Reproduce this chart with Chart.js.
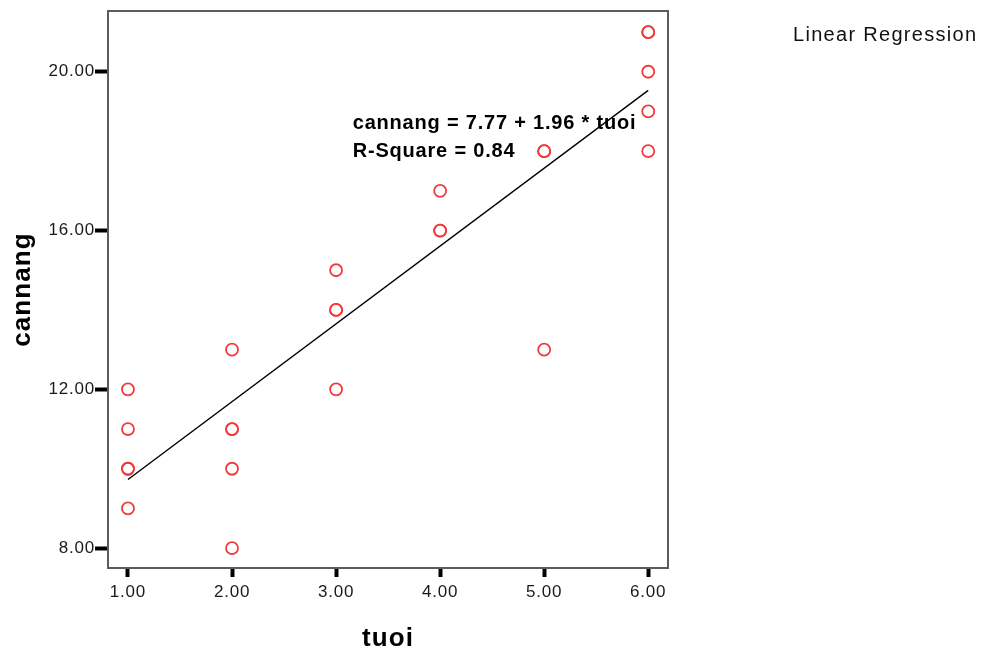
<!DOCTYPE html>
<html>
<head>
<meta charset="utf-8">
<script src="https://cdn.jsdelivr.net/npm/chart.js@4.4.1/dist/chart.umd.min.js"></script>
<style>
html,body{margin:0;padding:0;background:#fff;}
#wrap{width:982px;height:652px;position:relative;}
</style>
</head>
<body>
<div id="wrap"><canvas id="c" width="982" height="652"></canvas></div>
<script>
// ---- data ----
const tuoi    = [1, 1, 1, 1, 1,  2, 2, 2, 2, 2,  3, 3, 3, 3,  4, 4, 4,  5, 5, 5,  6, 6, 6, 6, 6];
const cannang = [12, 11, 10, 10, 9,  13, 11, 11, 10, 8,  15, 14, 14, 12,  17, 16, 16,  18, 18, 13,  21, 21, 20, 19, 18];
const fitX = [1, 6];
const fitY = [9.73, 19.53];
const xTicks = [1, 2, 3, 4, 5, 6];
const yTicks = [8, 12, 16, 20];
const equationLines = ["cannang = 7.77 + 1.96 * tuoi", "R-Square = 0.84"];
const legendTitle = "Linear Regression";

const points = tuoi.map((x, i) => ({x: x, y: cannang[i]}));
const fitLine = fitX.map((x, i) => ({x: x, y: fitY[i]}));

const FONT = '"Liberation Sans", Arial, sans-serif';

const framePlugin = {
  id: 'frame',
  beforeDraw(chart) {
    chart.ctx.letterSpacing = '1.1px';   // axis titles
  },
  beforeDatasetsDraw(chart) {
    const {ctx, chartArea: a} = chart;
    ctx.save();
    ctx.strokeStyle = '#5c5c5c';
    ctx.lineWidth = 2;
    ctx.strokeRect(a.left, a.top, a.right - a.left, a.bottom - a.top);
    ctx.restore();
  },
  afterDatasetsDraw(chart) {
    chart.ctx.letterSpacing = '0.8px';   // tick labels
  },
  afterDraw(chart) {
    const {ctx} = chart;
    const xs = chart.scales.x, ys = chart.scales.y;
    ctx.save();
    ctx.fillStyle = '#000';
    ctx.font = 'bold 20px ' + FONT;
    ctx.letterSpacing = '0.8px';
    ctx.textBaseline = 'alphabetic';
    ctx.textAlign = 'left';
    const x0 = xs.getPixelForValue(3.16);
    const y0 = ys.getPixelForValue(18.55);
    ctx.fillText(equationLines[0], x0, y0);
    ctx.fillText(equationLines[1], x0, y0 + 28);
    ctx.font = '20px ' + FONT;
    ctx.letterSpacing = '1.3px';
    ctx.fillStyle = '#111';
    ctx.fillText(legendTitle, 793, 41);
    ctx.restore();
  }
};

new Chart(document.getElementById('c'), {
  data: {
    datasets: [
      {
        type: 'scatter',
        data: points,
        pointStyle: 'circle',
        pointRadius: 6,
        pointHoverRadius: 6,
        borderColor: '#f23a3a',
        backgroundColor: 'rgba(0,0,0,0)',
        pointBorderWidth: 1.8,
        order: 1
      },
      {
        type: 'line',
        data: fitLine,
        borderColor: '#000',
        borderWidth: 1.4,
        pointRadius: 0,
        fill: false,
        tension: 0,
        order: 2
      }
    ]
  },
  options: {
    responsive: false,
    animation: false,
    devicePixelRatio: 1,
    events: [],
    layout: {padding: {left: 0, right: 314, top: 11, bottom: 0}},
    plugins: {legend: {display: false}, tooltip: {enabled: false}},
    scales: {
      x: {
        type: 'linear',
        min: 0.808, max: 6.19,
        afterFit: s => { s.height = 84; },
        afterBuildTicks: s => { s.ticks = xTicks.map(v => ({value: v})); },
        border: {display: false},
        grid: {drawOnChartArea: false, drawTicks: true, tickLength: 9, tickWidth: 4, tickColor: '#000'},
        ticks: {
          z: 1,
          padding: 5, color: '#1a1a1a',
          font: {family: FONT, size: 17},
          maxRotation: 0, autoSkip: false,
          callback: v => Number(v).toFixed(2)
        },
        title: {
          display: true, text: 'tuoi', color: '#000',
          font: {family: FONT, size: 26, weight: 'bold', lineHeight: 1},
          padding: {top: 0, bottom: 0}
        }
      },
      y: {
        type: 'linear',
        min: 7.5, max: 21.53,
        afterFit: s => { s.width = 108; },
        afterBuildTicks: s => { s.ticks = yTicks.map(v => ({value: v})); },
        border: {display: false},
        grid: {drawOnChartArea: false, drawTicks: true, tickLength: 13, tickWidth: 4, tickColor: '#000'},
        ticks: {
          z: 1,
          padding: 0, color: '#1a1a1a',
          font: {family: FONT, size: 17},
          autoSkip: false,
          callback: v => Number(v).toFixed(2)
        },
        title: {
          display: true, text: 'cannang', color: '#000',
          font: {family: FONT, size: 26, weight: 'bold', lineHeight: 1},
          padding: {top: 10, bottom: 0}
        }
      }
    }
  },
  plugins: [framePlugin]
});
</script>
</body>
</html>
